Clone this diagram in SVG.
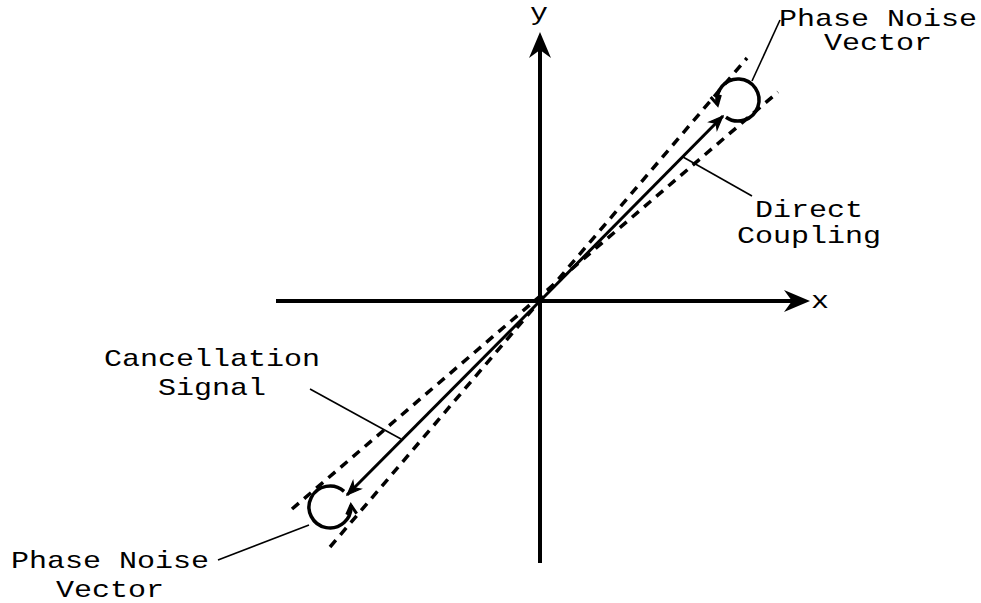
<svg xmlns="http://www.w3.org/2000/svg" width="981" height="603" viewBox="0 0 981 603">
<style>
.axis{stroke:#000;stroke-width:4;fill:none}
.vec{stroke:#000;stroke-width:3;fill:none}
.dash{stroke:#000;stroke-width:3.5;stroke-dasharray:9 7;fill:none}
.arc{stroke:#000;stroke-width:3.5;fill:none}
.lead{stroke:#000;stroke-width:1.6;fill:none}
text{font-family:"Liberation Mono","Courier New",monospace;font-size:24px;fill:#000}
</style>
<defs>
<marker id="axhead" markerUnits="userSpaceOnUse" viewBox="-10 -12 30 24" refX="0" refY="0" markerWidth="30" markerHeight="24" orient="auto" overflow="visible">
<path d="M18,0 L-8,-11 L0,0 L-8,11 Z" fill="#000"/>
</marker>
<marker id="vhead" markerUnits="userSpaceOnUse" viewBox="-16 -8 18 16" refX="0" refY="0" markerWidth="18" markerHeight="16" orient="auto" overflow="visible">
<path d="M0,0 L-14,-5.5 L-10,0 L-14,5.5 Z" fill="#000" stroke="#000" stroke-width="1.2"/>
</marker>
<marker id="ahead" markerUnits="userSpaceOnUse" viewBox="-12 -8 14 16" refX="0" refY="0" markerWidth="14" markerHeight="16" orient="auto" overflow="visible">
<path d="M-9,-5 L0,0 L-9,5" fill="none" stroke="#000" stroke-width="3"/>
</marker>
</defs>
<g id="connectors">
<line class="axis" x1="276" y1="301" x2="792" y2="301" marker-end="url(#axhead)"/>
<line class="axis" x1="540" y1="563" x2="540" y2="50" marker-end="url(#axhead)"/>
<line class="dash" x1="292" y1="509" x2="778" y2="92"/>
<line class="dash" x1="330" y1="547" x2="747" y2="58"/>
<line class="vec" x1="540" y1="301" x2="723" y2="116" marker-end="url(#vhead)"/>
<line class="vec" x1="540" y1="301" x2="347" y2="495" marker-end="url(#vhead)"/>
<line class="lead" x1="752" y1="81" x2="780" y2="20"/>
<line class="lead" x1="683" y1="157" x2="752" y2="196"/>
<line class="lead" x1="310" y1="389" x2="401" y2="439"/>
<line class="lead" x1="218" y1="560" x2="309" y2="525"/>
</g>
<g id="noise-top">
<path class="arc" d="M725.95,117.2 A21,21 0 1 0 717.54,104.7" marker-end="url(#ahead)"/>
</g>
<g id="noise-bottom">
<path class="arc" d="M344.05,491.4 A21,21 0 1 0 350.92,505.17" marker-end="url(#ahead)"/>
</g>
<g id="label-x"><text x="811" y="308" textLength="18" lengthAdjust="spacingAndGlyphs">x</text></g>
<g id="label-y"><text x="530" y="20" textLength="18" lengthAdjust="spacingAndGlyphs">y</text></g>
<g id="label-pn-top">
<text x="779" y="26" textLength="198" lengthAdjust="spacingAndGlyphs">Phase Noise</text>
<text x="824" y="50" textLength="108" lengthAdjust="spacingAndGlyphs">Vector</text>
</g>
<g id="label-direct">
<text x="755" y="217" textLength="108" lengthAdjust="spacingAndGlyphs">Direct</text>
<text x="737" y="243" textLength="144" lengthAdjust="spacingAndGlyphs">Coupling</text>
</g>
<g id="label-cancel">
<text x="104" y="366" textLength="216" lengthAdjust="spacingAndGlyphs">Cancellation</text>
<text x="158" y="395" textLength="108" lengthAdjust="spacingAndGlyphs">Signal</text>
</g>
<g id="label-pn-bottom">
<text x="11" y="568" textLength="198" lengthAdjust="spacingAndGlyphs">Phase Noise</text>
<text x="56" y="597" textLength="108" lengthAdjust="spacingAndGlyphs">Vector</text>
</g>
</svg>
